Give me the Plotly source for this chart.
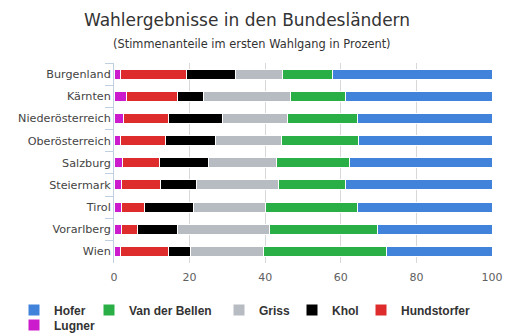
import plotly.graph_objects as go

states = ["Burgenland", "Kärnten", "Niederösterreich", "Oberösterreich", "Salzburg",
          "Steiermark", "Tirol", "Vorarlberg", "Wien"]

lugner      = [1.8, 3.4, 2.6, 1.8, 2.3, 2.1, 2.1, 2.1, 1.8]
hundstorfer = [17.5, 13.5, 11.9, 11.9, 9.8, 10.3, 6.0, 4.2, 12.7]
khol        = [12.9, 6.8, 14.3, 13.2, 13.0, 9.4, 12.8, 10.6, 5.8]
griss       = [12.4, 23.1, 17.2, 17.3, 18.0, 21.8, 19.1, 24.2, 19.2]
vdb         = [13.3, 14.4, 18.3, 20.6, 19.3, 17.6, 24.3, 28.7, 32.7]
hofer       = [42.1, 38.8, 35.7, 35.2, 37.6, 38.8, 35.7, 30.2, 27.8]

# name, values, colour, legend id, legend position (container px of symbol left, row centre)
series = [
    ("Lugner", lugner, "#CC1BCC", "legend6", (28, 325)),
    ("Hundstorfer", hundstorfer, "#DE2C2C", "legend5", (375, 310)),
    ("Khol", khol, "#000000", "legend4", (306, 310)),
    ("Griss", griss, "#B7BBC2", "legend3", (233, 310)),
    ("Van der Bellen", vdb, "#2AAF47", "legend2", (103, 310)),
    ("Hofer", hofer, "#4183DB", "legend", (28, 310)),
]

FONT = "DejaVu Sans"
W, H = 532, 336
L, R, T, B = 114, 40, 63, 72

fig = go.Figure()
legends = {}
for name, vals, col, lg, (lx, ly) in series:
    fig.add_trace(go.Bar(
        y=states, x=vals, name=name, orientation="h", legend=lg,
        marker=dict(color=col, line=dict(color="white", width=1)),
    ))
    legends[lg] = dict(
        orientation="h", xref="container", yref="container",
        x=(lx - 14) / W, y=1 - ly / H, xanchor="left", yanchor="middle",
        font=dict(family="Liberation Sans", size=12, color="#333333", weight="bold"),
        itemclick=False, itemdoubleclick=False, bgcolor="rgba(0,0,0,0)",
    )

def py(px):
    return (H - B - px) / (H - T - B)

def pxx(px):
    return (px - L) / (W - L - R)

fig.update_layout(
    barmode="stack",
    bargap=0.55,
    width=W, height=H,
    margin=dict(l=L, r=R, t=T, b=B),
    paper_bgcolor="white", plot_bgcolor="white",
    font=dict(family=FONT, size=11, color="#333333"),
    title=dict(
        text="Wahlergebnisse in den Bundesländern",
        xref="container", yref="container",
        x=247 / W, xanchor="center", y=1 - 20.5 / H, yanchor="middle",
        font=dict(family=FONT, size=17, color="#333333"),
    ),
    annotations=[dict(
        text="(Stimmenanteile im ersten Wahlgang in Prozent)",
        xref="paper", yref="paper", x=pxx(252), y=py(44),
        xanchor="center", yanchor="middle", showarrow=False,
        font=dict(family=FONT, size=11.4, color="#333333"),
    )],
    showlegend=True,
    **legends,
)

fig.update_xaxes(
    range=[0, 100], tickvals=[0, 20, 40, 60, 80, 100],
    showgrid=True, gridcolor="#D8D8D8", gridwidth=1,
    zeroline=False, showline=False,
    tickfont=dict(family=FONT, size=11, color="#606060"),
    ticks="", ticklabelstandoff=6,
)

fig.update_yaxes(
    autorange="reversed",
    showline=True, linecolor="#C0D0E0", linewidth=1,
    ticks="outside", ticklen=8, tickcolor="#C0D0E0", tickson="boundaries",
    tickfont=dict(family=FONT, size=11.2, color="#444444"),
    showgrid=False,
)

fig.write_html("out.html")
